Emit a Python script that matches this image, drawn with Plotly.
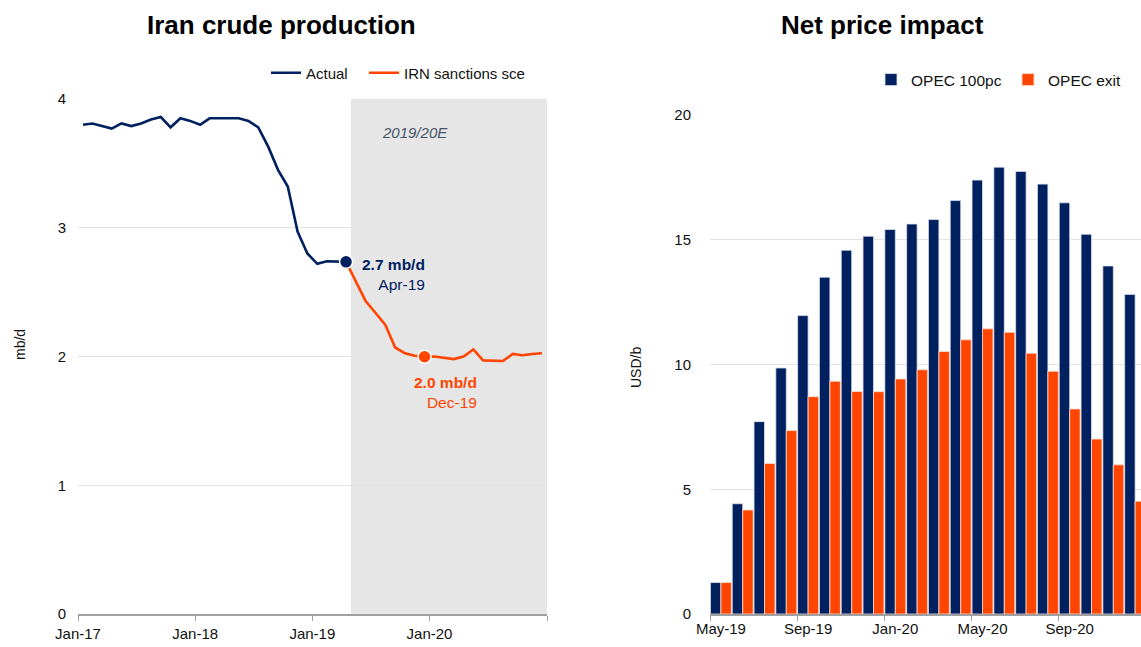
import plotly.graph_objects as go
import pandas as pd

# ---------------- Data ----------------
months_left = [d.strftime('%Y-%m-%d') for d in pd.date_range('2017-01-01', '2020-12-01', freq='MS')]

actual_values = [3.80, 3.81, 3.79, 3.77, 3.81, 3.79, 3.81, 3.84, 3.86, 3.78, 3.85, 3.83,
                 3.80, 3.85, 3.85, 3.85, 3.85, 3.83, 3.78, 3.63, 3.45, 3.32, 2.97, 2.80,
                 2.72, 2.74, 2.74, 2.735]
scenario_values = [2.735, 2.58, 2.43, 2.34, 2.245, 2.07, 2.025, 2.006, 1.998, 2.00, 1.99,
                   1.98, 2.00, 2.055, 1.97, 1.97, 1.965, 2.02, 2.01, 2.02, 2.025]
actual_months = months_left[:len(actual_values)]
scenario_months = months_left[len(actual_values) - 1:]

left_tick_dates = ['2017-01-01', '2018-01-01', '2019-01-01', '2020-01-01', '2021-01-01']
left_tick_text = ['Jan-17', 'Jan-18', 'Jan-19', 'Jan-20', '']
forecast_start = '2019-05-01'
forecast_end = '2021-01-01'

bar_months = ['May-19', 'Jun-19', 'Jul-19', 'Aug-19', 'Sep-19', 'Oct-19', 'Nov-19', 'Dec-19',
              'Jan-20', 'Feb-20', 'Mar-20', 'Apr-20', 'May-20', 'Jun-20', 'Jul-20', 'Aug-20',
              'Sep-20', 'Oct-20', 'Nov-20', 'Dec-20']
opec_100pc = [1.26, 4.42, 7.71, 9.86, 11.96, 13.50, 14.58, 15.14, 15.41, 15.63, 15.81, 16.57,
              17.39, 17.91, 17.74, 17.23, 16.48, 15.22, 13.95, 12.81]
opec_exit = [1.26, 4.17, 6.03, 7.35, 8.71, 9.33, 8.92, 8.91, 9.42, 9.79, 10.52, 10.99,
             11.43, 11.29, 10.45, 9.73, 8.22, 7.01, 5.98, 4.52]

# ---------------- Style ----------------
NAVY = '#002060'
ORANGE = '#FF4500'
FONT = 'Liberation Sans, Arial, sans-serif'
W, H = 1141, 647
AXIS_GREY = '#a0a0a0'
GRID = '#e3e3e3'
TXT = '#111111'

def px_x(p):
    return p / W

def px_y(p):
    return 1 - p / H

fig = go.Figure()

# Left chart lines
fig.add_trace(go.Scatter(x=actual_months, y=actual_values, mode='lines', name='Actual',
                         line=dict(color=NAVY, width=2.6), xperiod='M1', xperiodalignment='middle',
                         xaxis='x', yaxis='y', legend='legend'))
fig.add_trace(go.Scatter(x=scenario_months, y=scenario_values, mode='lines', name='IRN sanctions sce',
                         line=dict(color=ORANGE, width=2.6), xperiod='M1', xperiodalignment='middle',
                         xaxis='x', yaxis='y', legend='legend3'))
# Highlight markers
apr_idx = len(actual_values) - 1
dec_idx = 8
fig.add_trace(go.Scatter(x=[actual_months[apr_idx]], y=[actual_values[apr_idx]], mode='markers',
                         marker=dict(color=NAVY, size=13, line=dict(color='white', width=1.5)),
                         xperiod='M1', xperiodalignment='middle', showlegend=False,
                         xaxis='x', yaxis='y', hoverinfo='skip'))
fig.add_trace(go.Scatter(x=[scenario_months[dec_idx]], y=[scenario_values[dec_idx]], mode='markers',
                         marker=dict(color=ORANGE, size=13, line=dict(color='white', width=1.5)),
                         xperiod='M1', xperiodalignment='middle', showlegend=False,
                         xaxis='x', yaxis='y', hoverinfo='skip'))

# Right chart bars
fig.add_trace(go.Bar(x=bar_months, y=opec_100pc, name='OPEC 100pc', marker_color=NAVY,
                     marker_line=dict(color='#dde1ea', width=0.8), xaxis='x2', yaxis='y2', legend='legend2'))
fig.add_trace(go.Bar(x=bar_months, y=opec_exit, name='OPEC exit', marker_color=ORANGE,
                     marker_line=dict(color='#f6e0d8', width=0.8), xaxis='x2', yaxis='y2', legend='legend4'))

tickfont = dict(family=FONT, size=15, color=TXT)

def legend_at(xpx, ypx, size):
    return dict(orientation='h', x=px_x(xpx), y=px_y(ypx), xanchor='left', yanchor='middle',
                font=dict(family=FONT, size=size, color=TXT), bgcolor='rgba(0,0,0,0)',
                itemwidth=30, traceorder='normal')

fig.update_layout(
    width=W, height=H,
    margin=dict(l=0, r=0, t=0, b=0, pad=0, autoexpand=False),
    paper_bgcolor='white', plot_bgcolor='white',
    font=dict(family=FONT, size=15, color=TXT),
    barmode='group', bargap=0.04, bargroupgap=0.0,
    xaxis=dict(domain=[px_x(78), px_x(547)], anchor='y', type='date',
               range=['2017-01-01', '2021-01-01'],
               tickmode='array', tickvals=left_tick_dates, ticktext=left_tick_text,
               ticks='outside', ticklen=5, tickcolor=AXIS_GREY, tickwidth=1,
               showline=True, linecolor=AXIS_GREY, linewidth=1.5, tickangle=0,
               showgrid=False, zeroline=False, tickfont=tickfont, fixedrange=True, automargin=False),
    yaxis=dict(domain=[px_y(614), px_y(99)], anchor='x', range=[0, 4], dtick=1,
               showgrid=True, gridcolor=GRID, gridwidth=1, zeroline=False, showline=False,
               ticks='', tickfont=tickfont, ticklabelstandoff=11, fixedrange=True, automargin=False),
    xaxis2=dict(domain=[px_x(710), 1.0], anchor='y2', type='category',
                range=[-0.5, 19.27], tickmode='linear', tick0=0, dtick=4, tickangle=0,
                tickson='boundaries', ticks='outside', ticklen=5, tickcolor=AXIS_GREY,
                showline=True, linecolor=AXIS_GREY, linewidth=1.5, showgrid=False,
                tickfont=tickfont, fixedrange=True, automargin=False),
    yaxis2=dict(domain=[px_y(614), px_y(115)], anchor='x2', range=[0, 20], dtick=5,
                showgrid=True, gridcolor=GRID, gridwidth=1, zeroline=False, showline=False,
                ticks='', tickfont=tickfont, ticklabelstandoff=18, fixedrange=True, automargin=False),
    legend=legend_at(266, 73, 15),
    legend3=legend_at(364, 73, 15),
    legend2=legend_at(871, 80, 15.5),
    legend4=legend_at(1008, 80, 15.5),
    shapes=[dict(type='rect', xref='x', yref='y', x0=forecast_start, x1=forecast_end, y0=0, y1=4,
                 fillcolor='#e6e6e6', line=dict(width=0), layer='below')],
    showlegend=True,
)

annotations = [
    dict(text='<b>Iran crude production</b>', x=px_x(281), y=px_y(25), xref='paper', yref='paper',
         showarrow=False, font=dict(family=FONT, size=26, color='#000000'), xanchor='center', yanchor='middle'),
    dict(text='<b>Net price impact</b>', x=px_x(882), y=px_y(25), xref='paper', yref='paper',
         showarrow=False, font=dict(family=FONT, size=26, color='#000000'), xanchor='center', yanchor='middle'),
    dict(text='mb/d', x=px_x(20), y=px_y(345), xref='paper', yref='paper', textangle=-90,
         showarrow=False, font=dict(family=FONT, size=14, color=TXT), xanchor='center', yanchor='middle'),
    dict(text='USD/b', x=px_x(636), y=px_y(368), xref='paper', yref='paper', textangle=-90,
         showarrow=False, font=dict(family=FONT, size=14, color=TXT), xanchor='center', yanchor='middle'),
    dict(text='<i>2019/20E</i>', x=px_x(415), y=px_y(133), xref='paper', yref='paper',
         showarrow=False, font=dict(family=FONT, size=15, color='#44546a'), xanchor='center', yanchor='middle'),
    dict(text='<b>2.7 mb/d</b><br>Apr-19', x='2019-04-16', y=actual_values[apr_idx], xref='x', yref='y',
         showarrow=False, align='right', xanchor='left', yanchor='top', xshift=13.5, yshift=8,
         font=dict(family=FONT, size=15.5, color=NAVY)),
    dict(text='<b>2.0 mb/d</b><br>Dec-19', x='2019-12-16', y=scenario_values[dec_idx], xref='x', yref='y',
         showarrow=False, align='right', xanchor='right', yanchor='top', xshift=54.5, yshift=-15,
         font=dict(family=FONT, size=15.5, color=ORANGE)),
]
fig.update_layout(annotations=annotations)

fig.write_html('out.html', config={'displayModeBar': False},
               post_script="document.body.style.margin='0px';document.body.style.overflow='hidden';")
